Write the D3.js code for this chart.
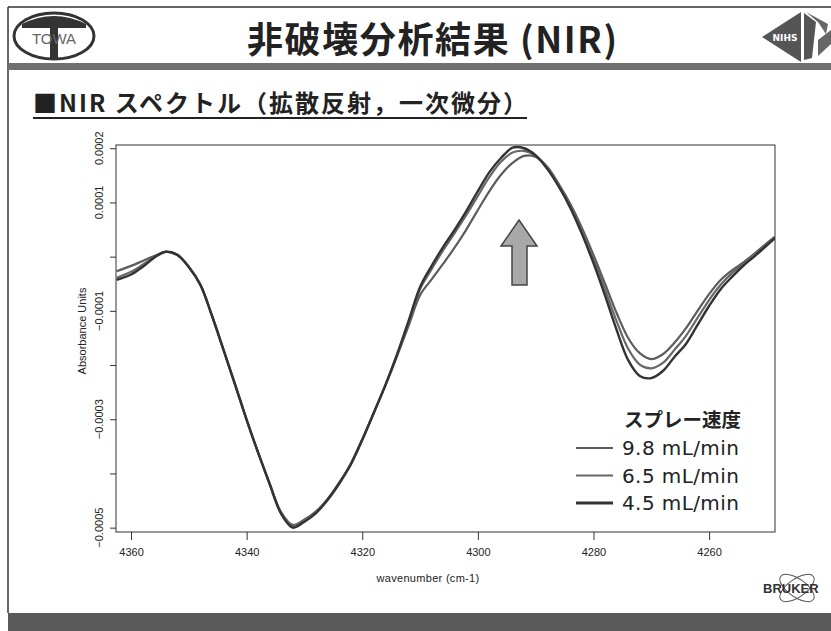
<!DOCTYPE html>
<html>
<head>
<meta charset="utf-8">
<script src="https://cdn.jsdelivr.net/npm/d3@7"></script>
<style>
  body { margin: 0; background: #fff; }
  svg { display: block; }
</style>
</head>
<body>
<div id="chart"></div>
<script>
// wavenumber grid (cm-1)
const wavenumber = [4362.5, 4360, 4358, 4356, 4354, 4352, 4350, 4348, 4346, 4344, 4342, 4340,
  4338, 4336, 4334, 4332, 4330, 4328, 4326, 4324, 4322, 4320, 4318, 4316, 4314, 4312, 4310,
  4308, 4306, 4304, 4302, 4300, 4298, 4296, 4294, 4292, 4290, 4288, 4286, 4284, 4282, 4280,
  4278, 4276, 4274, 4272, 4270, 4268, 4266, 4264, 4262, 4260, 4258, 4256, 4254, 4252, 4250, 4248.6];

// absorbance, first derivative, in units of 1e-4
const spray98 = [-0.27, -0.17, -0.08, 0.01, 0.09, 0.04, -0.19, -0.52, -1.09, -1.72, -2.36, -3.01,
  -3.62, -4.19, -4.72, -4.95, -4.85, -4.70, -4.47, -4.17, -3.82, -3.37, -2.88, -2.38, -1.84, -1.28, -0.71,
  -0.42, -0.13, 0.17, 0.50, 0.86, 1.21, 1.51, 1.73, 1.86, 1.84, 1.66, 1.34, 0.97, 0.53, 0.03,
  -0.50, -1.04, -1.50, -1.78, -1.89, -1.80, -1.59, -1.32, -1.00, -0.69, -0.43, -0.25, -0.10, 0.07, 0.25, 0.37];
const spray65 = [-0.39, -0.28, -0.15, -0.01, 0.09, 0.03, -0.19, -0.52, -1.09, -1.72, -2.36, -3.01,
  -3.62, -4.20, -4.74, -4.97, -4.87, -4.72, -4.48, -4.18, -3.83, -3.38, -2.88, -2.37, -1.82, -1.22, -0.60,
  -0.23, 0.12, 0.44, 0.77, 1.12, 1.47, 1.75, 1.92, 1.95, 1.86, 1.64, 1.31, 0.94, 0.47, -0.04,
  -0.61, -1.19, -1.70, -1.99, -2.06, -1.96, -1.72, -1.46, -1.13, -0.80, -0.52, -0.30, -0.13, 0.05, 0.23, 0.35];
const spray45 = [-0.43, -0.33, -0.19, -0.02, 0.09, 0.03, -0.19, -0.52, -1.09, -1.72, -2.36, -3.01,
  -3.62, -4.20, -4.75, -5.00, -4.89, -4.73, -4.49, -4.19, -3.84, -3.38, -2.88, -2.37, -1.81, -1.19, -0.56,
  -0.17, 0.18, 0.50, 0.84, 1.21, 1.56, 1.82, 2.01, 2.00, 1.87, 1.62, 1.29, 0.90, 0.42, -0.12,
  -0.72, -1.35, -1.91, -2.20, -2.24, -2.11, -1.85, -1.61, -1.26, -0.91, -0.60, -0.37, -0.16, 0.02, 0.21, 0.34];

const seriesNames = ["9.8 mL/min", "6.5 mL/min", "4.5 mL/min"];
const xTicks = [4360, 4340, 4320, 4300, 4280, 4260];
const yTicks = [2, 1, 0, -1, -2, -3, -4, -5];
const yLabelled = [2, 1, -1, -3, -5];

const W = 831, H = 631;
const svg = d3.select("#chart").append("svg")
    .attr("width", W)
    .attr("height", H)
    .style("background", "#fff");

// slide frame
svg.append("line").attr("x1", 8).attr("y1", 7).attr("x2", W).attr("y2", 7)
    .attr("stroke", "#333").attr("stroke-width", 1.5);
svg.append("line").attr("x1", 8).attr("y1", 7).attr("x2", 8).attr("y2", 613)
    .attr("stroke", "#333").attr("stroke-width", 1.5);
svg.append("rect").attr("x", 8).attr("y", 63).attr("width", W - 8).attr("height", 7)
    .attr("fill", "#707070");
svg.append("rect").attr("x", 8).attr("y", 613).attr("width", W - 8).attr("height", H - 613)
    .attr("fill", "#5a5a5a");

// title
svg.append("text")
    .attr("x", 432).attr("y", 53)
    .attr("text-anchor", "middle")
    .attr("textLength", 370)
    .attr("lengthAdjust", "spacing")
    .style("font-family", "'Noto Sans CJK JP', sans-serif")
    .style("font-size", "36px")
    .style("font-weight", "bold")
    .style("fill", "#222")
    .text("非破壊分析結果 (NIR)");

svg.append("text")
    .attr("x", 33).attr("y", 112)
    .attr("textLength", 494)
    .attr("lengthAdjust", "spacing")
    .style("font-family", "'Noto Sans CJK JP', sans-serif")
    .style("font-size", "24px")
    .style("font-weight", "bold")
    .style("fill", "#222")
    .text("■NIR スペクトル（拡散反射，一次微分）");
svg.append("line").attr("x1", 33).attr("x2", 527).attr("y1", 118).attr("y2", 118)
    .attr("stroke", "#222").attr("stroke-width", 2);

// TOWA logo
const towa = svg.append("g");
towa.append("ellipse").attr("cx", 54).attr("cy", 36).attr("rx", 40).attr("ry", 23)
    .attr("fill", "none").attr("stroke", "#333").attr("stroke-width", 3);
towa.append("path").attr("d", "M22,24 Q54,8 86,24 L86,28 L58,28 L58,59 L50,59 L50,28 L22,28 Z")
    .attr("fill", "#333");
towa.append("text").attr("x", 54).attr("y", 44).attr("text-anchor", "middle")
    .style("font-family", "'Liberation Sans', Arial, sans-serif").style("font-size", "15px")
    .style("fill", "#666").text("TOWA");

// NIHS logo
const nihs = svg.append("g");
nihs.append("path").attr("d", "M762,37 L801,12 L801,62 Z").attr("fill", "#555");
nihs.append("path").attr("d", "M804,13 L816,22 L812,58 L804,60 Z").attr("fill", "#555");
nihs.append("path").attr("d", "M806,12 L828,24 L826,34 L818,22 Z").attr("fill", "#666");
nihs.append("path").attr("d", "M818,40 L831,30 L831,44 L818,56 Z").attr("fill", "#666");
nihs.append("text").attr("x", 785).attr("y", 41).attr("text-anchor", "middle")
    .style("font-family", "'DejaVu Sans', sans-serif").style("font-size", "9px")
    .style("font-weight", "bold").style("fill", "#fff").text("NIHS");

// BRUKER logo
const bruker = svg.append("g");
bruker.append("ellipse").attr("cx", 797).attr("cy", 588).attr("rx", 20).attr("ry", 9)
    .attr("transform", "rotate(35,797,588)").attr("fill", "none").attr("stroke", "#555").attr("stroke-width", 1);
bruker.append("ellipse").attr("cx", 797).attr("cy", 588).attr("rx", 20).attr("ry", 9)
    .attr("transform", "rotate(-35,797,588)").attr("fill", "none").attr("stroke", "#555").attr("stroke-width", 1);
bruker.append("text").attr("x", 763).attr("y", 593)
    .style("font-family", "'Liberation Sans', Arial, sans-serif").style("font-size", "13px")
    .style("font-weight", "bold").style("fill", "#333").text("BRUKER");

// plot area
const plotLeft = 116, plotRight = 775, plotTop = 145, plotBottom = 532;
const x = d3.scaleLinear().domain([4362.6, 4248.6]).range([plotLeft, plotRight]);
const y = d3.scaleLinear().domain([-5.08, 2.06]).range([plotBottom, plotTop]);

svg.append("rect")
    .attr("x", plotLeft).attr("y", plotTop)
    .attr("width", plotRight - plotLeft).attr("height", plotBottom - plotTop)
    .attr("fill", "none").attr("stroke", "#333").attr("stroke-width", 1);

const axisFont = "'Liberation Sans', Arial, sans-serif";

const yAxis = svg.append("g")
    .attr("transform", `translate(${plotLeft},0)`)
    .call(d3.axisLeft(y).tickValues(yTicks).tickSize(6).tickFormat(""));
yAxis.select(".domain").remove();
yAxis.selectAll("line").attr("stroke", "#333");

svg.selectAll(".ylab")
    .data(yLabelled)
    .enter().append("text")
    .attr("class", "ylab")
    .attr("transform", d => `translate(103,${y(d)}) rotate(-90)`)
    .attr("text-anchor", "middle")
    .style("font-family", axisFont)
    .style("font-size", "11px")
    .style("fill", "#222")
    .text(d => d3.format(".4f")(d * 1e-4));

svg.append("text")
    .attr("transform", "translate(86,331) rotate(-90)")
    .attr("text-anchor", "middle")
    .style("font-family", axisFont)
    .style("font-size", "11px")
    .style("fill", "#222")
    .text("Absorbance Units");

const xAxis = svg.append("g")
    .attr("transform", `translate(0,${plotBottom})`)
    .call(d3.axisBottom(x).tickValues(xTicks).tickSize(8).tickPadding(8).tickFormat(d3.format("d")));
xAxis.select(".domain").remove();
xAxis.selectAll("line").attr("stroke", "#333");
xAxis.selectAll("text")
    .style("font-family", axisFont)
    .style("font-size", "11px")
    .style("fill", "#222");

svg.append("text")
    .attr("x", 428).attr("y", 582)
    .attr("text-anchor", "middle")
    .style("font-family", axisFont)
    .style("font-size", "11px")
    .style("letter-spacing", "0.3px")
    .style("fill", "#222")
    .text("wavenumber (cm-1)");

// curves
const series = [
    {name: seriesNames[0], values: spray98, color: "#5c5c5c", width: 2.2},
    {name: seriesNames[1], values: spray65, color: "#676767", width: 2.2},
    {name: seriesNames[2], values: spray45, color: "#333", width: 2.4}
];

const line = d3.line()
    .x((d, i) => x(wavenumber[i]))
    .y(d => y(d))
    .curve(d3.curveCatmullRom.alpha(0.5));

svg.append("defs").append("clipPath").attr("id", "plotclip")
    .append("rect").attr("x", plotLeft).attr("y", plotTop)
    .attr("width", plotRight - plotLeft).attr("height", plotBottom - plotTop);

svg.append("g").attr("clip-path", "url(#plotclip)")
    .selectAll("path")
    .data(series)
    .enter().append("path")
    .attr("d", d => line(d.values))
    .attr("fill", "none")
    .attr("stroke", d => d.color)
    .attr("stroke-width", d => d.width)
    .attr("stroke-linejoin", "round");

// arrow
svg.append("path")
    .attr("d", "M519,220 L537,246 L527,246 L527,285 L512,285 L512,246 L501,246 Z")
    .attr("fill", "#a8a8a8")
    .attr("stroke", "#444")
    .attr("stroke-width", 1.5);

// legend
const legend = svg.append("g");
legend.append("text")
    .attr("x", 741).attr("y", 427)
    .attr("text-anchor", "end")
    .style("font-family", "'Noto Sans CJK JP', sans-serif")
    .style("font-size", "19.5px")
    .style("font-weight", "bold")
    .style("fill", "#222")
    .text("スプレー速度");

const item = legend.selectAll(".item")
    .data(series)
    .enter().append("g")
    .attr("class", "item")
    .attr("transform", (d, i) => `translate(0,${448 + i * 27.5})`);
item.append("line")
    .attr("x1", 576).attr("x2", 613)
    .attr("stroke", d => d.color)
    .attr("stroke-width", (d, i) => i === 2 ? 3 : 2);
item.append("text")
    .attr("x", 622).attr("y", 7)
    .style("font-family", "'DejaVu Sans', sans-serif")
    .style("font-size", "20px")
    .style("letter-spacing", "0.4px")
    .style("fill", "#222")
    .text(d => d.name);
</script>
</body>
</html>
